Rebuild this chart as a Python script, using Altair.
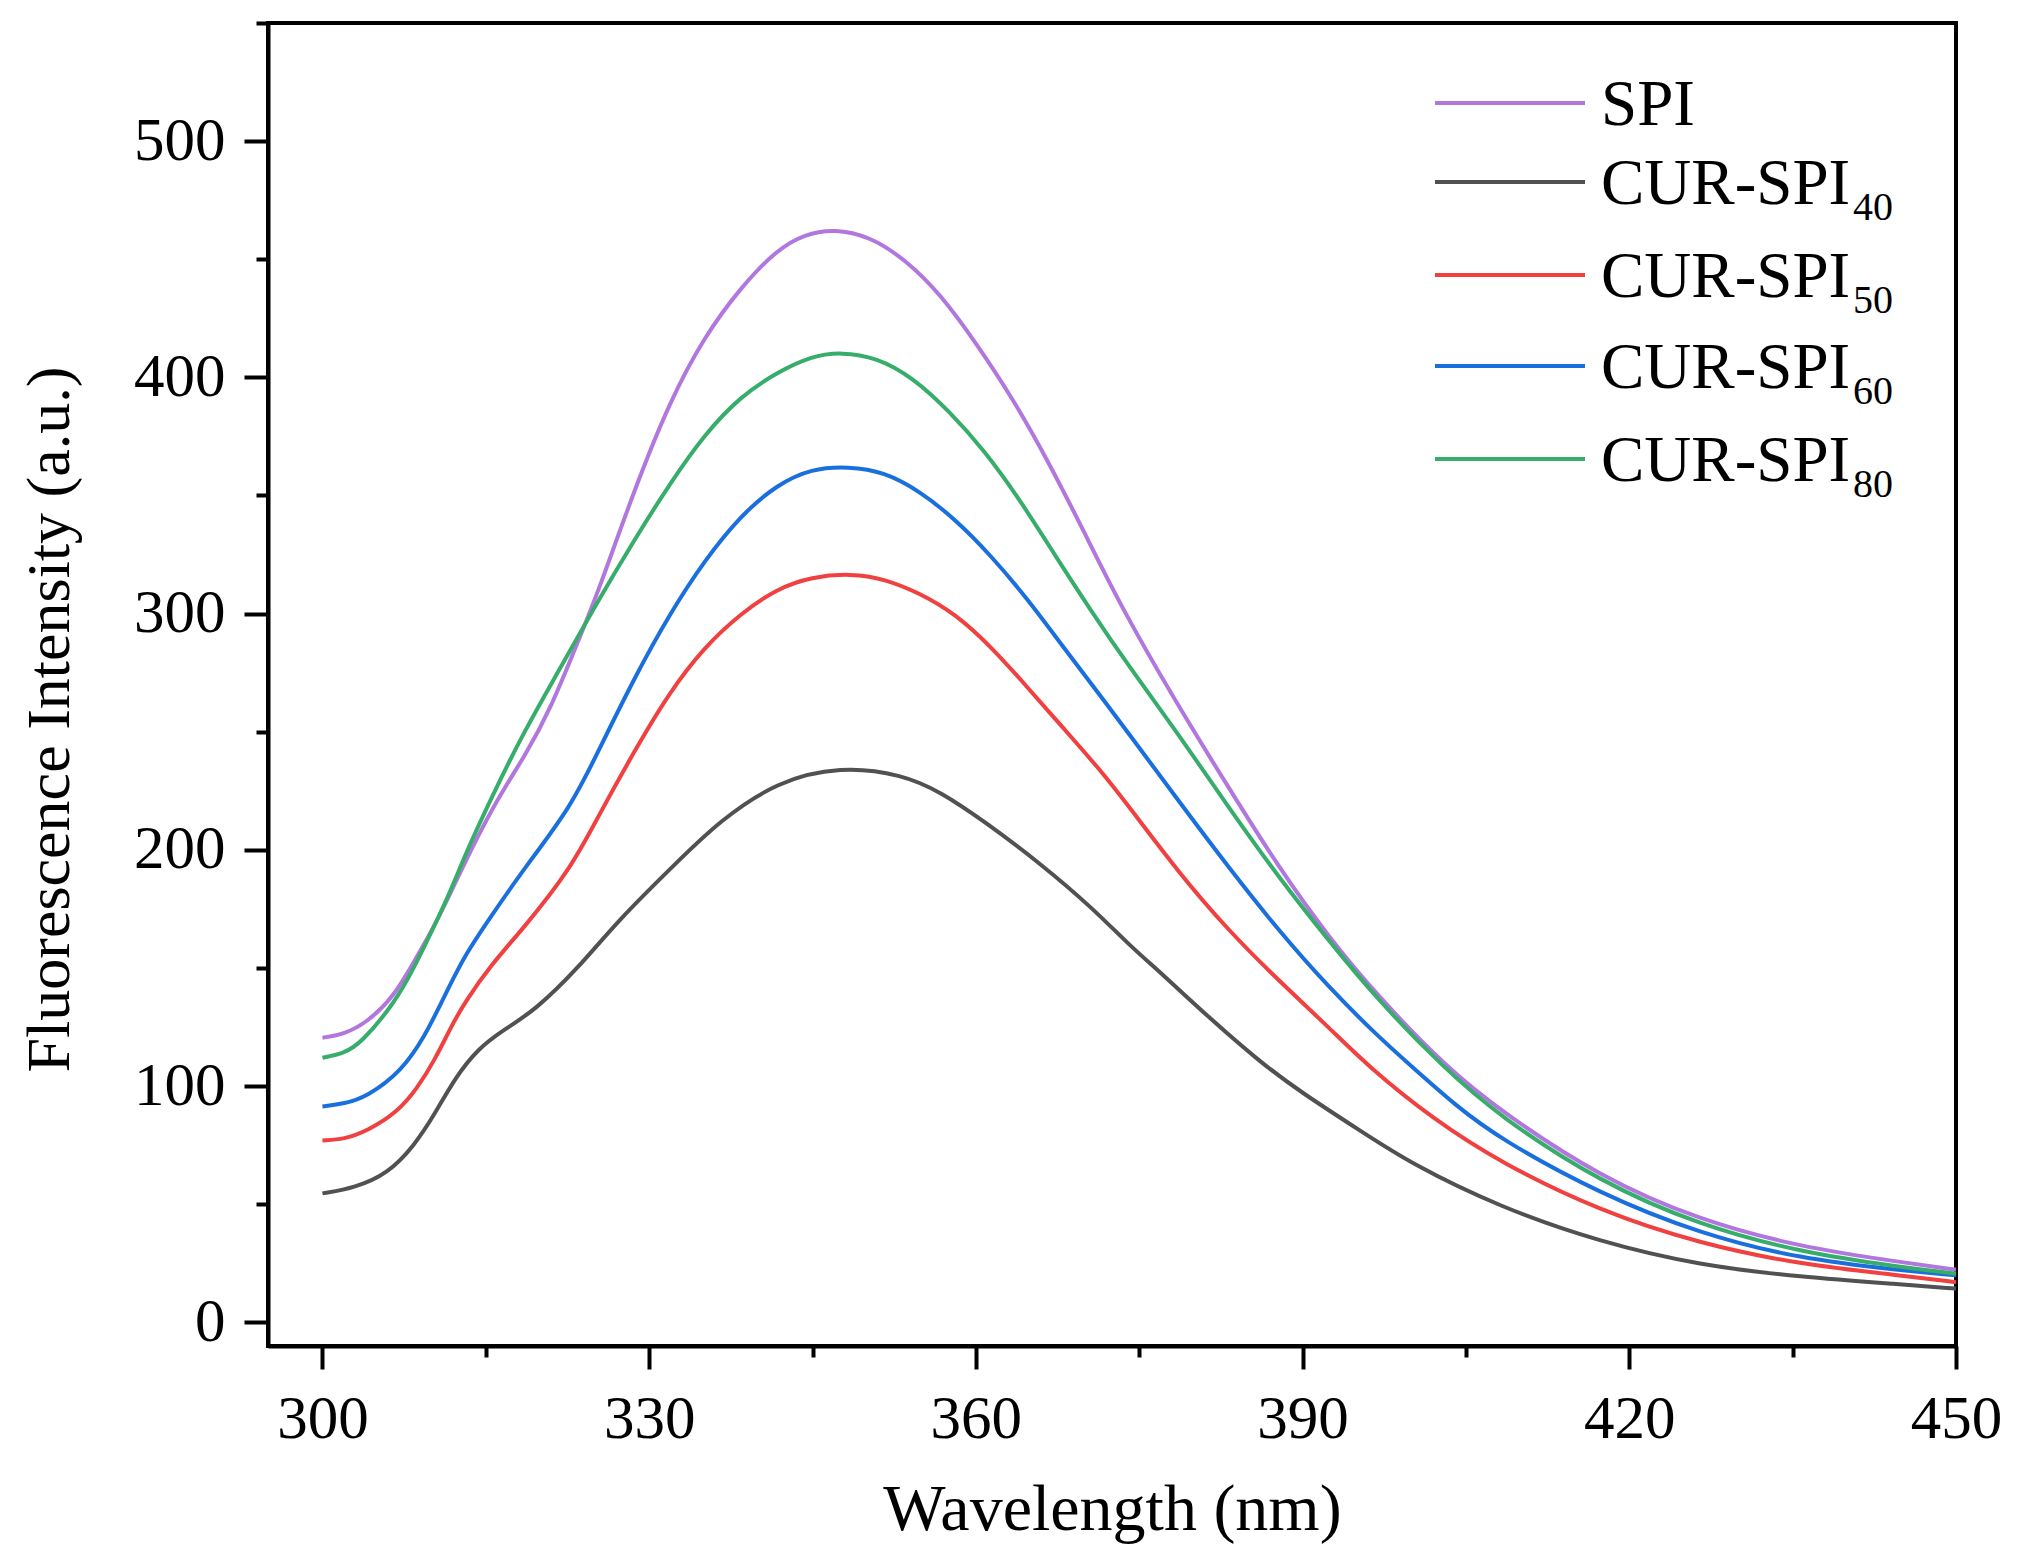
import altair as alt
import pandas as pd

# ---------------- data ----------------
series_names = ["SPI", "CUR-SPI40", "CUR-SPI50", "CUR-SPI60", "CUR-SPI80"]
legend_main = ["SPI", "CUR-SPI", "CUR-SPI", "CUR-SPI", "CUR-SPI"]
legend_sub = ["", "40", "50", "60", "80"]
series_colors = ["#B177DE", "#515151", "#F14040", "#1A6FDF", "#37AD6B"]

x_major = [300, 330, 360, 390, 420, 450]
x_minor = [315, 345, 375, 405, 435]
y_major = [0, 100, 200, 300, 400, 500]
y_minor = [50, 150, 250, 350, 450, 550]

wl_spi = [300, 302, 304.1, 306.6, 308.7, 310.3, 311.8, 313.3, 316.1, 318.5,
          321, 323.8, 325.3, 328.6, 331.9, 335.1, 338.4, 341.7, 344.3, 347,
          350.2, 353.5, 356.8, 360.1, 363.4, 366.7, 369.9, 373.2, 378.3, 383.2,
          387.8, 392.4, 397, 403.2, 408.1, 417.3, 426.5, 435.7, 444.9, 450]
v_spi = [120.5, 122, 127, 138, 155, 168, 182, 197, 222, 239,
         260, 292, 309, 352, 390, 417.5, 438, 454, 460.7, 462.8,
         459.8, 450, 435, 414, 391, 364, 335, 304, 263, 226.4,
         192.6, 163, 137.6, 108, 89.7, 61.5, 43.1, 31.9, 25.5, 22.3]

wl_40 = [300, 303, 306, 308.4, 310.3, 312.1, 314.3, 316.7, 319.5, 323.5,
         327.1, 332.6, 336.4, 341.7, 347.6, 353.2, 356.8, 360.8, 366, 370.8,
         374, 377.1, 381.4, 386.3, 390, 395, 400, 408.1, 417.3, 426.5,
         435.7, 444.9, 450]
v_40 = [54.6, 57, 63, 74.6, 88, 103, 116, 124, 132, 150,
        170, 195, 212, 229, 235.4, 232, 224.5, 212, 194, 175,
        160, 147.5, 129, 109.4, 97, 82, 67, 48.8, 34, 24.1,
        19.2, 16.1, 14.3]

wl_50 = [300, 302, 304.1, 306.9, 308.7, 310.3, 311.8, 313, 315.5, 318.5,
         322.8, 325.3, 328.6, 331.9, 335.1, 338.4, 341.7, 344.9, 348.6, 351.6,
         354.8, 358.1, 361.4, 364.7, 368, 371.3, 374, 378.6, 383.2, 387.8,
         392.4, 396.1, 402, 408.1, 417.3, 426.5, 435.7, 444.9, 450]
v_50 = [77, 77.5, 81, 89, 99, 111, 125, 135, 151.5, 167,
        192, 214, 241.5, 267, 286, 300, 310.5, 315.6, 317, 314.7,
        308.8, 300, 286, 269, 251.7, 234.5, 218.7, 190.5, 165.8, 144.7,
        124.9, 108, 86, 67.8, 47.1, 33.3, 24.5, 19.9, 17]

wl_60 = [300, 302, 304.1, 307.2, 309.4, 311.2, 313, 315.5, 318.5, 322.8,
         325.3, 328.6, 331.9, 335.1, 338.4, 341.7, 344.9, 348.3, 351.6, 354.8,
         358.1, 361.4, 364.7, 368, 371.3, 374, 378.6, 383.2, 387.8, 392.4,
         397, 400.1, 404, 408.1, 417.3, 426.5, 435.7, 444.9, 450]
v_60 = [91.4, 92.5, 95.6, 106, 121, 138, 155, 172, 192, 218,
        241.5, 272.5, 300, 322.6, 341.5, 354.5, 361.4, 362.3, 360, 352,
        340, 324.5, 306.5, 286, 266, 249.5, 220.8, 192.6, 165.8, 141.8,
        120.7, 108, 92, 77.7, 54.4, 37.5, 26.9, 22, 19.9]

wl_80 = [300, 302, 303.5, 306.6, 308.4, 310.3, 311.8, 313.3, 315.5, 318.5,
         321.6, 325, 328.6, 331.9, 335.1, 338.4, 341.7, 344.9, 347.6, 350.9,
         354.2, 357.5, 360.8, 364, 367.3, 370.6, 374, 378.6, 383.2, 387.8,
         392.4, 397, 402.9, 408.1, 417.3, 426.5, 435.7, 444.9, 450]
v_80 = [112, 114, 118, 135, 150, 168, 183, 200, 222, 250,
        275, 303, 331, 355, 376, 392, 402, 409, 410.7, 408.5,
        400, 386, 369, 348.5, 324.5, 301, 278, 249, 218, 188.4,
        161.6, 136, 108, 87.1, 59.4, 41, 29.7, 23.4, 20.6]

all_wl = [wl_spi, wl_40, wl_50, wl_60, wl_80]
all_v = [v_spi, v_40, v_50, v_60, v_80]

frames = []
for name, wl, v in zip(series_names, all_wl, all_v):
    frames.append(pd.DataFrame({"series": name, "wavelength": wl, "intensity": v}))
df = pd.concat(frames, ignore_index=True)

# ---------------- chart ----------------
FONT = "Liberation Serif"
W, H = 1688, 1323
LW = 4

xscale = alt.Scale(domain=[295, 450], nice=False, zero=False)
yscale = alt.Scale(domain=[-10, 550], nice=False, zero=False)
color = alt.Color("series:N", scale=alt.Scale(domain=series_names, range=series_colors), legend=None)

lines = alt.Chart(df).mark_line(strokeWidth=LW, interpolate="basis").encode(
    x=alt.X("wavelength:Q", scale=xscale,
            axis=alt.Axis(orient="bottom", values=x_major, tickSize=23, labelPadding=20,
                          labelFlush=False, format="d", title="Wavelength (nm)",
                          titleY=183, titleBaseline="alphabetic", titleFontSize=66)),
    y=alt.Y("intensity:Q", scale=yscale,
            axis=alt.Axis(orient="left", values=y_major, tickSize=24, labelPadding=19,
                          labelFlush=False, format="d", title="Fluorescence Intensity (a.u.)",
                          titleX=-200, titleY=696, titleAngle=270,
                          titleBaseline="alphabetic", titleFontSize=62)),
    color=color,
)

minor = alt.Chart(df).mark_line(opacity=0).encode(
    x=alt.X("wavelength:Q", scale=xscale,
            axis=alt.Axis(orient="bottom", values=x_minor, tickSize=11, labels=False,
                          domain=False, title="")),
    y=alt.Y("intensity:Q", scale=yscale,
            axis=alt.Axis(orient="left", values=y_minor, tickSize=12, labels=False,
                          domain=False, title="")),
    detail="series:N",
)

# manual legend (line samples + text with subscripts)
legend_row_y = [80, 159, 252, 343, 436]
leg_base = alt.Chart(pd.DataFrame({"k": [0]}))
legend_layers = []
for i in range(len(series_names)):
    ry = legend_row_y[i]
    legend_layers.append(
        leg_base.mark_rule(strokeWidth=LW, color=series_colors[i]).encode(
            x=alt.value(1167), x2=alt.value(1317), y=alt.value(ry)))
    legend_layers.append(
        leg_base.mark_text(text=legend_main[i], font=FONT, fontSize=65, align="left",
                           baseline="alphabetic", color="black").encode(
            x=alt.value(1333), y=alt.value(ry + 22)))
    if legend_sub[i]:
        legend_layers.append(
            leg_base.mark_text(text=legend_sub[i], font=FONT, fontSize=40, align="left",
                               baseline="alphabetic", color="black").encode(
                x=alt.value(1585), y=alt.value(ry + 38)))

chart = alt.layer(lines, minor, *legend_layers).resolve_axis(
    x="independent", y="independent"
).properties(
    width=W, height=H,
    autosize=alt.AutoSizeParams(type="none"),
    padding={"left": 260, "top": 15, "right": 55, "bottom": 210},
    background="white",
).configure_view(
    stroke="black", strokeWidth=4
).configure_axis(
    grid=False,
    domainColor="black", domainWidth=4,
    tickColor="black", tickWidth=4,
    labelFont=FONT, labelFontSize=61, labelColor="black",
    titleFont=FONT, titleFontWeight="normal", titleColor="black",
)

chart.save("out.html", embed_options={"renderer": "svg", "actions": False})
